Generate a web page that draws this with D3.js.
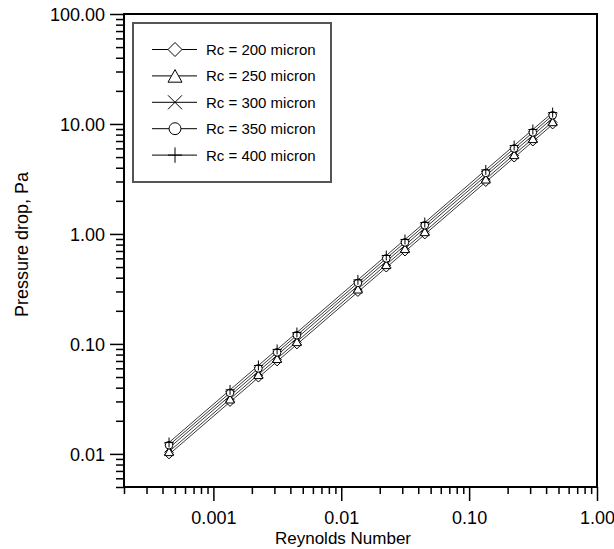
<!DOCTYPE html>
<html>
<head>
<meta charset="utf-8">
<script src="https://cdn.jsdelivr.net/npm/d3@7"></script>
<style>
  html, body { margin: 0; padding: 0; background: #fff; }
  svg { display: block; font-family: "Liberation Sans", Arial, Helvetica, sans-serif; }
</style>
</head>
<body>
<svg id="chart" width="614" height="549"></svg>
<script>
// ---- data ----
const reynolds = [0.00045, 0.00135, 0.00225, 0.00315, 0.0045, 0.0135, 0.0225, 0.0315, 0.045, 0.135, 0.225, 0.315, 0.45];
const seriesNames = ["Rc = 200 micron", "Rc = 250 micron", "Rc = 300 micron", "Rc = 350 micron", "Rc = 400 micron"];
const rc200 = [0.0099, 0.0297, 0.0495, 0.0693, 0.099, 0.297, 0.495, 0.693, 0.99, 2.97, 4.95, 6.93, 9.9];
const rc250 = [0.0105, 0.0316, 0.0527, 0.0737, 0.105, 0.316, 0.527, 0.737, 1.05, 3.16, 5.27, 7.37, 10.5];
const rc300 = [0.0113, 0.0338, 0.0563, 0.0788, 0.113, 0.338, 0.563, 0.788, 1.13, 3.38, 5.63, 7.88, 11.3];
const rc350 = [0.0120, 0.0359, 0.0599, 0.0838, 0.120, 0.359, 0.599, 0.838, 1.20, 3.59, 5.99, 8.38, 12.0];
const rc400 = [0.0127, 0.0382, 0.0637, 0.0891, 0.127, 0.382, 0.637, 0.891, 1.27, 3.82, 6.37, 8.91, 12.7];
const seriesValues = [rc200, rc250, rc300, rc350, rc400];
const markerTypes = ["diamond", "triangle", "cross", "circle", "plus"];

const xMajorTicks = [0.001, 0.01, 0.1, 1];
const xTickLabels = ["0.001", "0.01", "0.10", "1.00"];
const yMajorTicks = [0.01, 0.1, 1, 10, 100];
const yTickLabels = ["0.01", "0.10", "1.00", "10.00", "100.00"];
const xTitle = "Reynolds Number";
const yTitle = "Pressure drop, Pa";

// ---- layout ----
const pL = 124, pR = 597, pT = 14, pB = 487;
const svg = d3.select("#chart");

const x = d3.scaleLog().domain([2e-4, 1]).range([pL, pR]);
const y = d3.scaleLog().domain([0.005, 100]).range([pB, pT]);

function minorTicks(domain) {
  const out = [];
  const lo = Math.floor(Math.log10(domain[0]) + 1e-9), hi = Math.ceil(Math.log10(domain[1]) - 1e-9);
  for (let e = lo; e < hi; e++) {
    for (let m = 2; m < 10; m++) {
      const v = m * Math.pow(10, e);
      if (v >= domain[0] * 0.999 && v <= domain[1] * 1.001) out.push(v);
    }
  }
  return out;
}

const xMinor = d3.axisBottom(x).tickValues(minorTicks(x.domain())).tickSize(7).tickSizeOuter(0).tickFormat("");
const xMajor = d3.axisBottom(x).tickValues(xMajorTicks).tickSize(14).tickSizeOuter(0)
  .tickFormat((d, i) => xTickLabels[i]);
const yMinor = d3.axisLeft(y).tickValues(minorTicks(y.domain())).tickSize(8).tickSizeOuter(0).tickFormat("");
const yMajor = d3.axisLeft(y).tickValues(yMajorTicks).tickSize(14).tickSizeOuter(0)
  .tickFormat((d, i) => yTickLabels[i]);

function styleAxis(g, fontSize) {
  g.select(".domain").remove();
  g.selectAll("line").attr("stroke", "#000").attr("stroke-width", 1.5);
  g.selectAll("text").attr("fill", "#000").style("font-size", fontSize + "px")
    .style("font-family", '"Liberation Sans", Arial, sans-serif');
}

svg.append("g").attr("transform", `translate(0,${pB})`).call(xMinor).call(g => styleAxis(g, 18));
const gxM = svg.append("g").attr("transform", `translate(0,${pB})`).call(xMajor).call(g => styleAxis(g, 18));
gxM.selectAll("text").attr("dy", null).attr("y", 37);
svg.append("g").attr("transform", `translate(${pL},0)`).call(yMinor).call(g => styleAxis(g, 18));
const gyM = svg.append("g").attr("transform", `translate(${pL},0)`).call(yMajor).call(g => styleAxis(g, 18));
gyM.selectAll("text").attr("x", -19).attr("dy", "0.35em");

svg.append("rect").attr("x", pL).attr("y", pT).attr("width", pR - pL).attr("height", pB - pT)
  .attr("fill", "none").attr("stroke", "#000").attr("stroke-width", 2);

svg.append("text").attr("x", 343).attr("y", 544).attr("text-anchor", "middle")
  .style("font-size", "17px").attr("fill", "#000").text(xTitle);
svg.append("text").attr("transform", `translate(28,${(pT + pB) / 2 - 6}) rotate(-90)`)
  .attr("text-anchor", "middle").style("font-size", "18px").attr("fill", "#000").text(yTitle);

function drawMarker(g, type, cx, cy, r) {
  const s = g.append("g").attr("transform", `translate(${cx},${cy})`);
  const st = el => el.attr("stroke", "#000").attr("stroke-width", 1).attr("fill", "#fff");
  if (type === "diamond") {
    st(s.append("path").attr("d", `M0,${-r}L${r},0L0,${r}L${-r},0Z`));
  } else if (type === "triangle") {
    const h = r * 0.9;
    st(s.append("path").attr("d", `M0,${-h}L${r},${h}L${-r},${h}Z`));
  } else if (type === "circle") {
    st(s.append("circle").attr("r", r * 0.85));
  } else if (type === "cross") {
    s.append("path").attr("d", `M${-r},${-r}L${r},${r}M${-r},${r}L${r},${-r}`)
      .attr("stroke", "#000").attr("stroke-width", 1).attr("fill", "none");
  } else if (type === "plus") {
    s.append("path").attr("d", `M0,${-r * 1.1}L0,${r * 1.1}M${-r},0L${r},0`)
      .attr("stroke", "#000").attr("stroke-width", 1).attr("fill", "none");
  }
}

const line = d3.line().x(d => x(d[0])).y(d => y(d[1]));
const plot = svg.append("g");
seriesValues.forEach((vals) => {
  const pts = reynolds.map((r, i) => [r, vals[i]]);
  plot.append("path").datum(pts).attr("d", line).attr("fill", "none")
    .attr("stroke", "#222").attr("stroke-width", 0.9);
});
seriesValues.forEach((vals, si) => {
  reynolds.forEach((r, i) => drawMarker(plot, markerTypes[si], x(r), y(vals[i]), 4.5));
});

const lg = svg.append("g");
lg.append("rect").attr("x", 133).attr("y", 23).attr("width", 198).attr("height", 159)
  .attr("fill", "#fff").attr("stroke", "#555").attr("stroke-width", 2);
seriesNames.forEach((name, i) => {
  const ly = 49.5 + i * 26.4;
  lg.append("line").attr("x1", 152).attr("x2", 197).attr("y1", ly).attr("y2", ly)
    .attr("stroke", "#000").attr("stroke-width", 1);
  drawMarker(lg, markerTypes[i], 175, ly, 7);
  lg.append("text").attr("x", 206).attr("y", ly + 5.5).style("font-size", "15px")
    .attr("fill", "#000").text(name);
});
</script>
</body>
</html>
